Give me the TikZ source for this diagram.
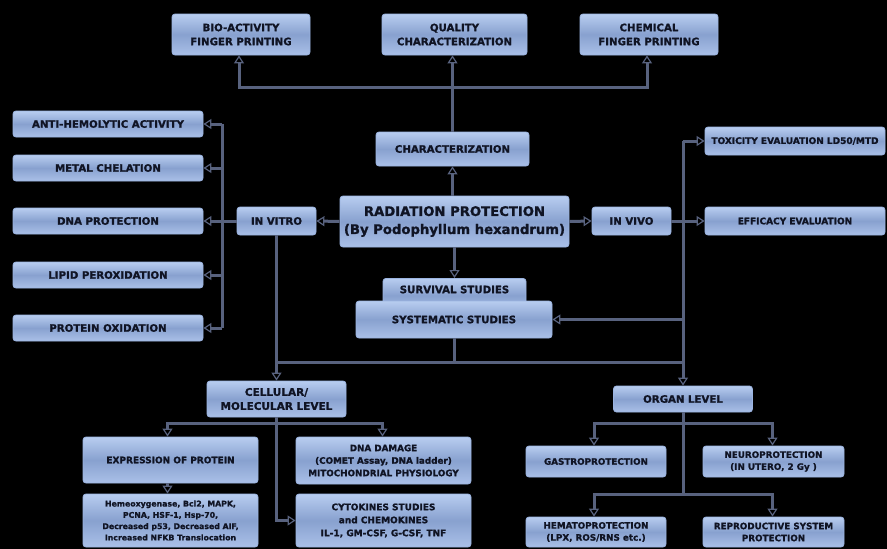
\documentclass[tikz,border=0pt]{standalone}
\usepackage{fontspec}
\setmainfont{DejaVu Sans}[BoldFeatures={FakeBold=1.2}]
\usetikzlibrary{arrows.meta}
\definecolor{boxtop}{RGB}{184,205,240}
\definecolor{boxmid}{RGB}{136,161,207}
\definecolor{boxbot}{RGB}{170,192,232}
\definecolor{boxedge}{RGB}{155,180,225}
\definecolor{txt}{RGB}{16,20,36}
\definecolor{lncol}{RGB}{88,98,126}
\tikzset{
  box/.style={rounded corners=3pt, draw=boxedge, line width=0.8pt,
    top color=boxtop, bottom color=boxbot, middle color=boxmid,
    text=txt, align=center, inner sep=1pt,
    font=\bfseries\fontsize{10.2}{14}\selectfont},
  ln/.style={draw=lncol, line width=3pt},
  arr/.style={ln, -{Triangle[open, line width=1.2pt, width=10pt, length=8pt]}},
}
\begin{document}
\begin{tikzpicture}[x=1pt,y=-1pt]
\fill[black] (0,0) rectangle (887,549);
\useasboundingbox (0,0) rectangle (887,549);

% top row
\node[box, minimum width=138pt, minimum height=41pt] (bio) at (241,34.5) {BIO-ACTIVITY\\FINGER PRINTING};
\node[box, minimum width=145pt, minimum height=41pt] (qual) at (454.5,34.5) {QUALITY\\CHARACTERIZATION};
\node[box, minimum width=138pt, minimum height=41pt] (chem) at (649,34.5) {CHEMICAL\\FINGER PRINTING};

% center
\node[box, minimum width=153pt, minimum height=34pt] (char) at (452.5,149) {CHARACTERIZATION};
\node[box, minimum width=229pt, minimum height=51pt, font=\bfseries\fontsize{13.2}{18}\selectfont] (rp) at (454.5,221.5) {RADIATION PROTECTION\\(By Podophyllum hexandrum)};
\node[box, minimum width=143pt, minimum height=34pt, anchor=north, text depth=12pt] (surv) at (454.5,278) {SURVIVAL STUDIES};
\node[box, minimum width=196pt, minimum height=37pt] (sys) at (454,319.5) {SYSTEMATIC STUDIES};

% in vitro / in vivo
\node[box, minimum width=79pt, minimum height=28pt] (invitro) at (276.5,221) {IN VITRO};
\node[box, minimum width=79pt, minimum height=28pt] (invivo) at (631.5,221) {IN VIVO};

% left column
\node[box, minimum width=190pt, minimum height=26pt] (anti) at (108,124) {ANTI-HEMOLYTIC ACTIVITY};
\node[box, minimum width=190pt, minimum height=26pt] (metal) at (108,168) {METAL CHELATION};
\node[box, minimum width=190pt, minimum height=26pt] (dnap) at (108,221) {DNA PROTECTION};
\node[box, minimum width=190pt, minimum height=26pt] (lipid) at (108,275) {LIPID PEROXIDATION};
\node[box, minimum width=190pt, minimum height=26pt] (prot) at (108,328) {PROTEIN OXIDATION};

% right column
\node[box, minimum width=180pt, minimum height=28pt, font=\bfseries\fontsize{9}{11}\selectfont] (tox) at (795,141) {TOXICITY EVALUATION LD50/MTD};
\node[box, minimum width=180pt, minimum height=28pt, font=\bfseries\fontsize{9}{11}\selectfont] (eff) at (795,221) {EFFICACY EVALUATION};

% cellular branch
\node[box, minimum width=139pt, minimum height=36pt, font=\bfseries\fontsize{10.5}{14}\selectfont] (cell) at (276.5,399) {CELLULAR/\\MOLECULAR LEVEL};
\node[box, minimum width=175pt, minimum height=46pt, font=\bfseries\fontsize{9}{11}\selectfont] (expr) at (170.5,460) {EXPRESSION OF PROTEIN};
\node[box, minimum width=175pt, minimum height=53pt, font=\bfseries\fontsize{7.8}{11.3}\selectfont] (heme) at (170.5,520.5) {Hemeoxygenase, Bcl2, MAPK,\\PCNA, HSF-1, Hsp-70,\\Decreased p53, Decreased AIF,\\Increased NFKB Translocation};
\node[box, minimum width=175pt, minimum height=47pt, font=\bfseries\fontsize{8.8}{12.5}\selectfont] (dna) at (383.5,460.5) {DNA DAMAGE\\(COMET Assay, DNA ladder)\\MITOCHONDRIAL PHYSIOLOGY};
\node[box, minimum width=175pt, minimum height=53pt, font=\bfseries\fontsize{9}{13}\selectfont] (cyto) at (383.5,520.5) {CYTOKINES STUDIES\\and CHEMOKINES\\IL-1, GM-CSF, G-CSF, TNF};

% organ branch
\node[box, minimum width=139pt, minimum height=26pt, font=\bfseries\fontsize{10.2}{12}\selectfont] (organ) at (683,399) {ORGAN LEVEL};
\node[box, minimum width=140pt, minimum height=31pt, font=\bfseries\fontsize{8.8}{12}\selectfont] (gastro) at (596,461.5) {GASTROPROTECTION};
\node[box, minimum width=141pt, minimum height=31pt, font=\bfseries\fontsize{8.8}{12}\selectfont] (neuro) at (773.5,461.5) {NEUROPROTECTION\\(IN UTERO, 2 Gy )};
\node[box, minimum width=140pt, minimum height=30pt, font=\bfseries\fontsize{8.8}{12}\selectfont] (hemato) at (596,532) {HEMATOPROTECTION\\(LPX, ROS/RNS etc.)};
\node[box, minimum width=141pt, minimum height=30pt, font=\bfseries\fontsize{8.8}{12}\selectfont] (repro) at (773.5,532) {REPRODUCTIVE SYSTEM\\PROTECTION};

% coordinates
\coordinate (tb) at (452.5,87);
\coordinate (lv) at (222,221);
\coordinate (rv) at (683,221);
\coordinate (bb) at (452,362);
\coordinate (cb) at (276.5,423);
\coordinate (ob1) at (683,423);
\coordinate (ob2) at (683,494);

% top connectors
\draw[ln] (char.north) -- (tb);
\draw[arr] (tb) -| ([xshift=-2pt]bio.south);
\draw[arr] (tb) -| ([xshift=-2pt]chem.south);
\draw[arr] (tb) -- (tb |- qual.south);
\draw[arr] (rp.north -| char.south) -- (char.south);
\draw[arr] (rp.south) -- (surv.north);
\draw[arr] (rp.east) -- (invivo.west);
\draw[arr] (rp.west) -- (invitro.east);

% in vitro fan
\draw[ln] (invitro.west) -- (lv);
\draw[ln] (lv |- anti.east) -- (lv |- prot.east);
\foreach \n in {anti,metal,dnap,lipid,prot}
  \draw[arr] (lv |- \n.east) -- (\n.east);

% in vivo fan
\draw[ln] (rv |- tox.west) -- (rv |- bb);
\draw[arr] (rv |- tox.west) -- (tox.west);
\draw[arr] (invivo.east) -- (eff.west);
\draw[arr] (rv |- sys.east) -- (sys.east);

% bottom bar
\draw[ln] (sys.south) -- (sys.south |- bb);
\draw[ln] (invitro.south) -- (invitro.south |- bb) -- (rv |- bb);
\draw[arr] (invitro.south |- bb) -- (cell.north);
\draw[arr] (rv |- bb) -- (organ.north);

% cellular
\draw[arr] (cell.south) |- (cyto.west);
\draw[arr] (cb) -| ([xshift=-3pt]expr.north);
\draw[arr] (cb) -| ([xshift=-1pt]dna.north);
\draw[arr] ([xshift=-3pt]expr.south) -- ([xshift=-3pt]heme.north);

% organ
\draw[ln] (organ.south) -- (ob2);
\draw[arr] (ob1) -| ([xshift=-2pt]gastro.north);
\draw[arr] (ob1) -| ([xshift=-1pt]neuro.north);
\draw[arr] (ob2) -| ([xshift=-2pt]hemato.north);
\draw[arr] (ob2) -| ([xshift=-1pt]repro.north);
\end{tikzpicture}
\end{document}
